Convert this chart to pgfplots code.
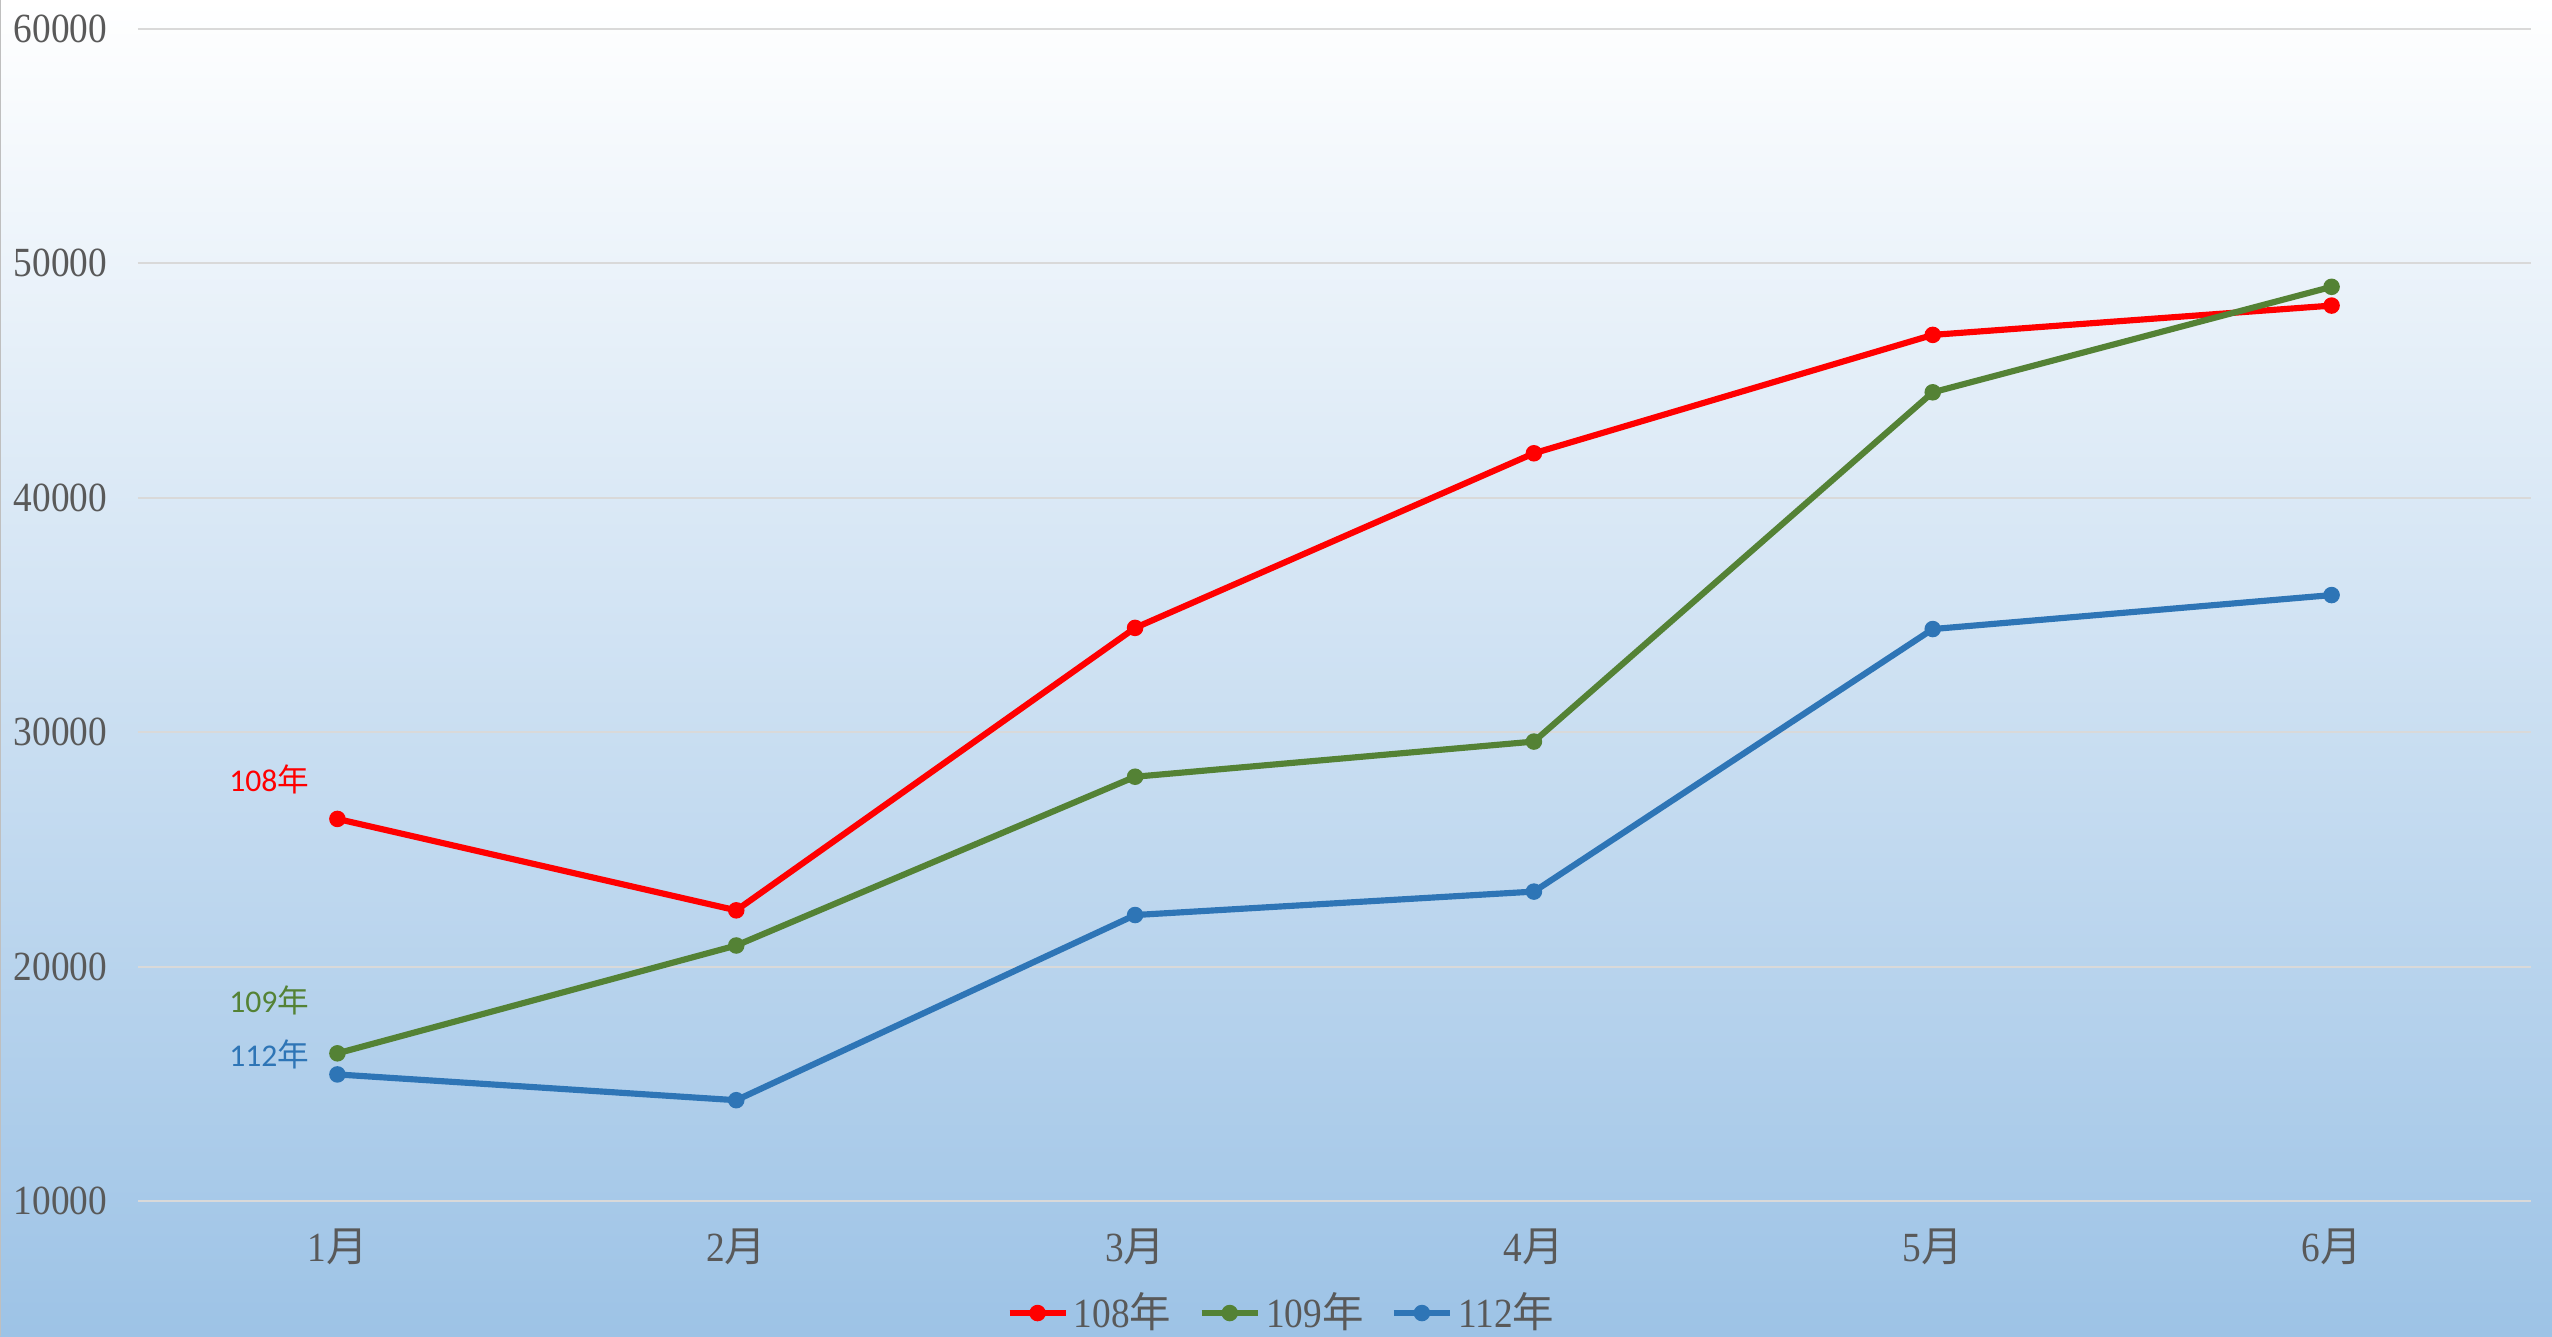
\documentclass[border=0pt]{standalone}
\usepackage{fontspec}
\setmainfont[FakeStretch=0.9]{Liberation Serif}
\newfontfamily\cjk{Noto Sans CJK TC}
\newfontfamily\lab{Carlito}
\usepackage{pgfplots}
\usepackage{pgfplotstable}
\pgfplotsset{compat=1.18}

\definecolor{tx}{HTML}{595959}
\definecolor{gridc}{HTML}{D9D9D9}
\definecolor{cred}{HTML}{FF0000}
\definecolor{cgreen}{HTML}{548235}
\definecolor{cblue}{HTML}{2E75B6}
\definecolor{bgblue}{HTML}{9DC3E6}

% monthly values
\pgfplotstableread{
m  r      g      b
1  26300  16300  15400
2  22400  20900  14300
3  34450  28100  22200
4  41900  29600  23200
5  46950  44500  34400
6  48200  49000  35850
}\sales

\begin{document}
\begin{tikzpicture}
\useasboundingbox (-1.38,-1.35) rectangle (24.14,12.01);
\shade[top color=white, bottom color=bgblue] (-1.38,-1.35) rectangle (24.14,12.01);
\draw[gray!50, line width=0.8pt] (-1.38,-1.35) -- (-1.38,12.01);
\begin{axis}[
   at={(0,0)}, anchor=south west,
   scale only axis,
   width=23.93cm, height=11.72cm,
   xmin=0.5, xmax=6.5,
   ymin=10000, ymax=60000,
   xtick={1,...,6},
   xticklabels={1{\cjk 月},2{\cjk 月},3{\cjk 月},4{\cjk 月},5{\cjk 月},6{\cjk 月}},
   ytick={10000,20000,...,60000},
   yticklabels={10000,20000,30000,40000,50000,60000},
   scaled y ticks=false,
   ymajorgrids,
   grid style={gridc, line width=0.6pt},
   axis line style={draw=none},
   major tick length=0pt,
   tick label style={font=\fontsize{11.8}{13}\selectfont, text=tx},
   yticklabel style={anchor=east, inner sep=0pt, xshift=-0.3cm},
   xticklabel style={anchor=center, inner sep=0pt, yshift=-0.46cm},
   legend columns=3,
   legend style={at={(0.4785,-0.0956)}, anchor=center, draw=none, fill=none,
      font=\fontsize{11.8}{13}\selectfont, text=tx,
      nodes={inner sep=1.5pt},
      /tikz/every even column/.append style={column sep=0.22cm}},
   legend image code/.code={
      \draw[mark repeat=2,mark phase=2] plot coordinates {(0cm,0cm)(0.28cm,0cm)(0.56cm,0cm)};},
   every axis plot/.append style={line width=1.75pt, mark=*, mark size=2.1pt},
   clip=false
]
\addplot[cred, mark options={fill=cred, line width=0.5pt}] table[x=m, y=r] {\sales};
\addlegendentry{108{\cjk 年}}
\addplot[cgreen, mark options={fill=cgreen, line width=0.5pt}] table[x=m, y=g] {\sales};
\addlegendentry{109{\cjk 年}}
\addplot[cblue, mark options={fill=cblue, line width=0.5pt}] table[x=m, y=b] {\sales};
\addlegendentry{112{\cjk 年}}

\node[text=cred, font=\lab\fontsize{9}{10}\selectfont] at (axis cs:0.829,28000) {108{\cjk 年}};
\node[text=cgreen, font=\lab\fontsize{9}{10}\selectfont] at (axis cs:0.829,18540) {109{\cjk 年}};
\node[text=cblue, font=\lab\fontsize{9}{10}\selectfont] at (axis cs:0.829,16250) {112{\cjk 年}};
\end{axis}
\end{tikzpicture}
\end{document}
